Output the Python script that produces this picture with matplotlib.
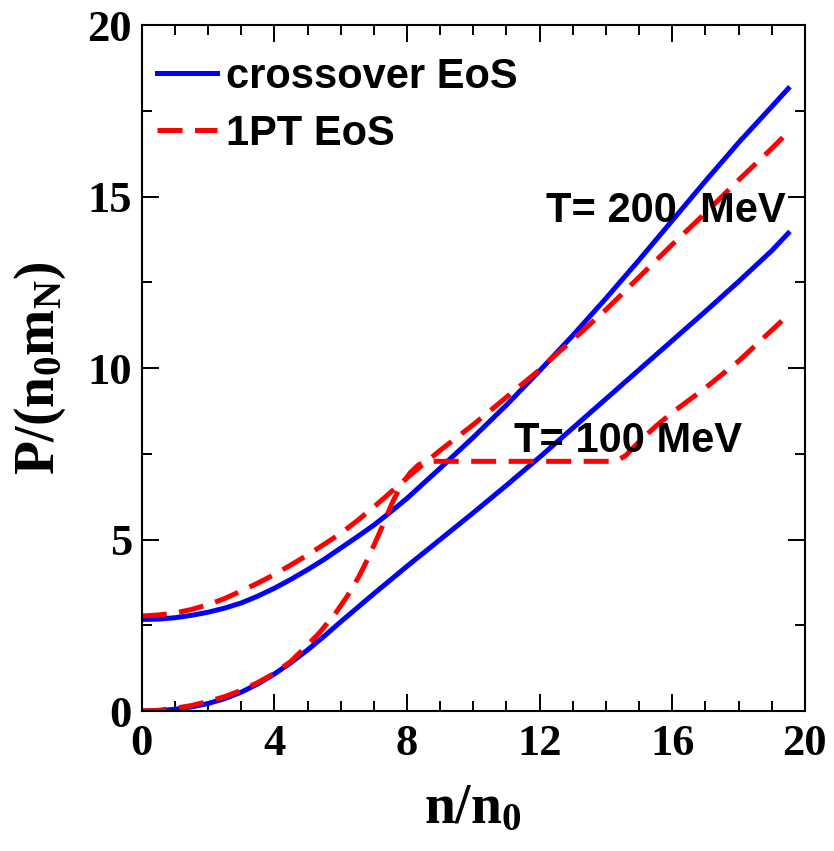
# plot.py
# Pressure vs density for crossover and first-order (1PT) EoS at two temperatures.

import matplotlib
matplotlib.use("Agg")
import matplotlib.pyplot as plt
from matplotlib.ticker import MultipleLocator

# --- data ---
n_cross_200 = [0, 0.5, 1, 1.5, 2, 2.5, 3, 3.5, 4, 4.5, 5, 5.5, 6, 6.5, 7, 7.5, 8, 9, 10,
               11, 12, 13, 14, 15, 16, 17, 18, 19, 19.5]
p_cross_200 = [2.67, 2.68, 2.72, 2.79, 2.88, 3.0, 3.15, 3.35, 3.58, 3.84, 4.12, 4.42,
               4.75, 5.08, 5.42, 5.8, 6.2, 7.08, 7.98, 8.92, 9.92, 10.95, 12.03, 13.15,
               14.3, 15.45, 16.57, 17.62, 18.15]

n_1pt_200 = [0, 0.5, 1, 1.5, 2, 2.5, 3, 3.5, 4, 4.5, 5, 5.5, 6, 6.5, 7, 7.5, 8, 9, 10,
             11, 12, 12.5, 13, 14, 15, 16, 17, 18, 19, 19.5]
p_1pt_200 = [2.77, 2.8, 2.86, 2.96, 3.1, 3.28, 3.5, 3.73, 3.98, 4.26, 4.55, 4.86, 5.18,
             5.55, 5.95, 6.37, 6.8, 7.6, 8.35, 9.15, 9.95, 10.4, 10.82, 11.7, 12.65,
             13.6, 14.52, 15.48, 16.4, 16.88]

n_cross_100 = [0, 0.5, 1, 1.5, 2, 2.5, 3, 3.5, 4, 4.5, 5, 5.5, 6, 6.5, 7, 7.5, 8, 9, 10,
               11, 12, 13, 14, 15, 16, 17, 18, 19, 19.5]
p_cross_100 = [0.0, 0.01, 0.05, 0.12, 0.22, 0.36, 0.55, 0.79, 1.08, 1.41, 1.78, 2.18,
               2.6, 3.01, 3.42, 3.82, 4.22, 5.0, 5.78, 6.58, 7.4, 8.25, 9.1, 9.95, 10.8,
               11.65, 12.52, 13.42, 13.93]

n_1pt_100 = [0, 0.5, 1, 1.5, 2, 2.5, 3, 3.5, 4, 4.5, 4.85, 5.35, 5.85, 6.2, 6.55, 6.85,
             7.25, 7.55, 7.8, 8.1, 8.35, 8.6, 10, 12, 14.3, 14.6, 15, 15.5, 16, 17, 18,
             19, 19.5]
p_1pt_100 = [0.0, 0.02, 0.08, 0.16, 0.28, 0.42, 0.6, 0.83, 1.1, 1.45, 1.78, 2.27, 2.86,
             3.35, 3.92, 4.5, 5.37, 6.06, 6.55, 6.95, 7.18, 7.28, 7.28, 7.28, 7.28,
             7.45, 7.85, 8.3, 8.7, 9.42, 10.2, 11.1, 11.55]

x_ticks = [0, 4, 8, 12, 16, 20]
y_ticks = [0, 5, 10, 15, 20]

SERIF = ["Liberation Serif", "DejaVu Serif"]
SANS = ["Liberation Sans", "DejaVu Sans"]

plt.rcParams["mathtext.fontset"] = "custom"
plt.rcParams["mathtext.rm"] = "Liberation Serif:bold"
plt.rcParams["mathtext.it"] = "Liberation Serif:bold"
plt.rcParams["mathtext.bf"] = "Liberation Serif:bold"

BLUE = "#0000ff"
RED = "#ff0000"
LW = 3.6
DASH = (0, (5, 2.5))

fig = plt.figure(figsize=(8.34, 8.51), dpi=100)
ax = fig.add_axes([0.170, 0.1645, 0.795, 0.806])

ax.plot(n_cross_200, p_cross_200, color=BLUE, lw=LW, solid_joinstyle="round",
        label="crossover EoS")
ax.plot(n_1pt_200, p_1pt_200, color=RED, lw=LW, ls=DASH, dash_joinstyle="round",
        label="1PT EoS")
ax.plot(n_cross_100, p_cross_100, color=BLUE, lw=LW, solid_joinstyle="round")
ax.plot(n_1pt_100, p_1pt_100, color=RED, lw=LW, ls=DASH, dash_joinstyle="round")

ax.set_xlim(0, 20)
ax.set_ylim(0, 20)
ax.set_xticks(x_ticks)
ax.set_yticks(y_ticks)
ax.xaxis.set_minor_locator(MultipleLocator(1))
ax.yaxis.set_minor_locator(MultipleLocator(2.5))

ax.tick_params(which="both", direction="in", top=True, right=True, width=1.4)
ax.tick_params(which="major", length=12)
ax.tick_params(which="minor", length=7)
ax.tick_params(axis="x", which="major", pad=9)
ax.tick_params(axis="y", which="major", pad=7)
for lab in ax.get_xticklabels() + ax.get_yticklabels():
    lab.set_fontfamily(SERIF)
    lab.set_fontweight("bold")
    lab.set_fontsize(32)

for sp in ax.spines.values():
    sp.set_linewidth(1.5)

ax.set_xlabel(r"n/n$_0$", fontsize=40, fontfamily=SERIF, fontweight="bold", labelpad=14)
ax.set_ylabel(r"P/(n$_0$m$_N$)", fontsize=40, fontfamily=SERIF, fontweight="bold", labelpad=14)

ax.text(12.18, 14.26, "T= 200  MeV", fontsize=30, fontfamily=SANS, fontweight="bold",
        ha="left", va="baseline")
ax.text(11.22, 7.55, "T= 100 MeV", fontsize=30, fontfamily=SANS, fontweight="bold",
        ha="left", va="baseline")

ax.legend(loc="upper left", bbox_to_anchor=(-0.015, 0.99), frameon=False,
          prop={"family": SANS, "weight": "bold", "size": 30},
          handlelength=1.45, handletextpad=0.22, labelspacing=0.4, borderaxespad=0.2)

fig.savefig("out.png", dpi=100)
